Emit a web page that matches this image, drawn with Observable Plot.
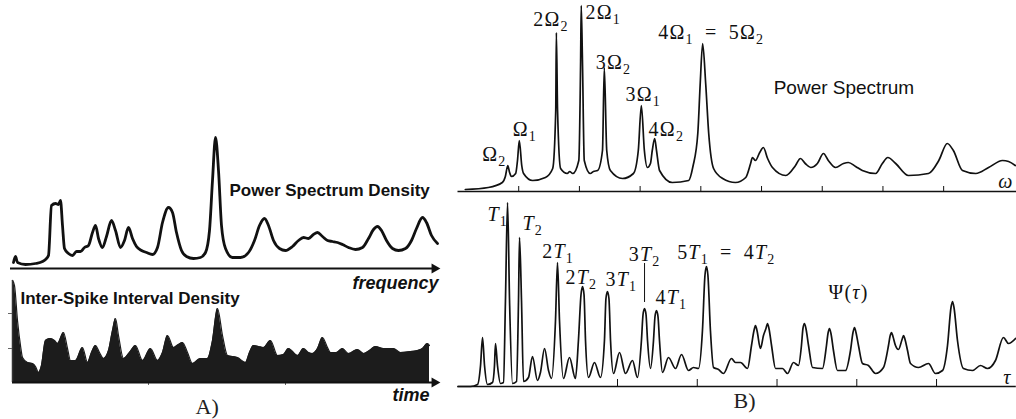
<!DOCTYPE html>
<html><head><meta charset="utf-8">
<script src="https://cdn.jsdelivr.net/npm/d3@7"></script>
<script src="https://cdn.jsdelivr.net/npm/@observablehq/plot@0.6"></script>
<style>
html,body{margin:0;padding:0;background:#fff;}
#chart{position:relative;width:1016px;height:419px;overflow:hidden;background:#fff;}
#chart svg{position:absolute;left:0;top:0;background:transparent !important;overflow:visible;}
</style></head><body><div id="chart"></div>
<script>
// ---------- Panel A, top: power spectrum density ----------
const psdFreq = [3,5,7,15,25,32,35,38,41,45,48,50,52,54,58,62,66,70,74,78,82,85,88,92,96,101,105,110,114,118,122,126,131,136,142,147,152,158,162,166,171,176,183,190,195,199,202,205,208,211,215,222,230,238,244,249,254,258,263,269,275,282,288,293,298,303,307,312,317,322,327,332,338,345,352,358,363,367,371,376,382,388,395,401,406,412,416,421,427];
const psdPower = [6,12,6,4,5,7,9,13,63,65,64,68,43,20,15,13,17,17,21,23,36,43,30,21,32,48,38,21,28,41,30,22,18,16,14,21,46,61,56,36,18,12,10,11,16,38,88,131,98,43,20,11,11,16,28,43,50,43,28,20,18,22,28,31,30,34,36,32,28,27,26,24,21,19,21,30,39,42,38,28,20,18,20,28,40,51,46,33,25];
const psdTexts = ["Power Spectrum Density", "frequency"];
const psdTextX = [219, 342];
const psdTextY = [73, -20];

// ---------- Panel A, bottom: inter-spike interval density ----------
const isiTime = [0,2,5,8,10,15,20,23,26,29,33,38,42,45,51,55,58,63,70,75,79,83,87,91,96,100,103,106,111,117,123,130,138,145,150,155,161,166,170,175,180,188,195,200,205,210,215,225,233,237,241,246,251,258,265,271,276,285,291,296,300,305,310,315,318,324,330,336,345,351,357,363,371,381,388,398,405,410,415,417];
const isiDensity = [102,97,62,37,25,20,19,16,10,17,42,44,42,39,50,34,22,22,35,20,30,37,30,24,32,52,64,47,24,30,37,22,34,22,30,47,35,38,40,30,19,24,24,42,74,47,27,25,20,30,37,36,35,42,27,28,34,27,34,30,29,34,45,35,30,30,34,29,33,29,32,36,34,34,30,31,32,34,39,37];
const isiYTicks = [34, 69];
const isiXTicks = [136, 273];
const isiTexts = ["Inter-Spike Interval Density", "time", "A)"];
const isiTextX = [8, 380, 183];
const isiTextY = [79, -18, -31];

// ---------- Panel B, top: power spectrum ----------
const specOmega = [0.12,0.50,0.73,0.78,0.82,0.85,0.88,0.95,0.98,1.01,1.05,1.08,1.23,1.44,1.56,1.61,1.62,1.64,1.69,1.80,1.84,1.89,1.99,2.02,2.03,2.05,2.08,2.18,2.23,2.30,2.38,2.41,2.45,2.51,2.71,2.89,2.97,3.02,3.07,3.12,3.17,3.20,3.24,3.27,3.32,3.53,3.80,3.87,3.95,3.99,4.03,4.08,4.13,4.21,4.36,4.57,4.74,4.82,4.85,4.90,4.97,5.03,5.10,5.18,5.40,5.56,5.64,5.72,5.81,5.92,6.02,6.10,6.22,6.35,6.43,6.55,6.66,6.88,6.99,7.08,7.21,7.42,7.75,7.92,8.06,8.16,8.31,8.53,8.74,8.97,9.07,9.18];
const specPower = [2,4,9,15,26,19,15,18,31,51,26,18,11,14,23,81,159,81,23,18,20,18,31,131,186,131,31,18,20,21,41,124,41,21,13,18,41,86,41,24,28,41,53,41,21,9,11,25,58,108,148,108,58,23,13,9,14,28,34,31,39,44,33,24,16,26,33,28,24,28,38,31,24,28,29,25,21,18,28,34,28,16,18,31,48,41,21,18,24,31,30,26];
const specTicks = [1,2,3,4,5,6,7,8];
const specLabels = ["Ω_2","Ω_1","2Ω_2","2Ω_1","3Ω_2","3Ω_1","4Ω_2","4Ω_1\u2002=\u20025Ω_2","*ω*"];
const specLabelOmega = [0.40,0.90,1.24,2.10,2.27,2.76,3.14,3.30,8.90];
const specLabelPower = [31,56,166,173,123,91,56,153,4];
const specTitle = ["Power Spectrum"];
const specTitleOmega = [5.20];
const specTitlePower = [98];

// ---------- Panel B, bottom: Psi(tau) ----------
const psiTau = [0,1.25,1.96,2.26,2.46,2.66,2.96,3.46,3.66,3.76,3.96,4.26,4.56,4.76,4.97,5.17,5.47,5.87,6.07,6.17,6.37,6.57,7.07,7.47,7.97,8.27,8.68,9.08,9.38,9.78,9.98,10.18,10.58,11.18,11.78,12.08,12.34,12.49,12.64,12.79,13.09,13.69,14.29,14.69,14.84,14.99,15.14,15.30,15.60,16.20,16.80,17.50,18.00,18.40,18.56,18.71,18.86,19.01,19.31,19.61,19.76,19.91,20.06,20.21,20.51,21.11,21.82,22.42,23.12,23.62,24.12,24.52,24.77,24.92,25.07,25.32,25.63,26.13,26.63,27.43,27.83,28.34,29.04,29.44,29.69,29.84,29.99,30.34,30.64,30.89,31.04,31.19,31.45,31.85,32.55,33.05,33.65,34.15,34.45,34.60,34.75,34.90,35.16,35.56,36.56,36.96,37.11,37.26,37.41,37.66,38.06,38.87,39.37,39.62,39.77,39.92,40.17,40.57,41.17,41.88,42.68,43.18,43.33,43.48,43.63,43.88,44.18,44.54,44.69,44.84,45.09,45.39,46.19,47.19,47.89,48.60,49.10,49.45,49.60,49.75,50.10,50.70,51.61,52.41,53.11,53.91,54.71,55.22,55.92];
const psiValue = [0,0,2,21,49,21,2,4,21,43,21,3,4,86,184,86,3,5,86,149,86,5,9,30,6,14,38,16,8,66,124,66,8,29,8,46,92,100,92,46,9,24,9,46,88,95,88,46,13,34,13,26,9,46,72,78,72,46,18,46,70,76,70,46,14,29,18,32,16,19,18,56,111,120,111,56,19,17,13,28,24,24,18,41,56,61,56,38,51,58,63,58,41,18,18,13,24,21,41,58,63,58,41,19,18,41,53,58,53,36,16,16,36,54,59,54,41,23,21,13,19,41,50,54,50,41,37,47,51,47,36,23,19,23,13,16,41,79,85,79,46,18,16,21,18,26,49,43,48];
const psiTicks = [16,24,32,40,48];
const psiLabels = ["*T*_1","*T*_2","2*T*_1","2*T*_2","3*T*_1","3*T*_2","4*T*_1","5*T*_1\u2002=\u20024*T*_2","Ψ(*τ*)","*τ*"];
const psiLabelTau = [2.96,6.47,8.46,10.78,14.79,17.13,19.81,21.98,37.16,54.7];
const psiLabelValue = [166,157,129,103,101,126,83,128,88,3];
const psiPanel = ["B)"];
const psiPanelTau = [27.63];
const psiPanelValue = [-21];
const psiMarkerTau = [18.71];
const psiMarkerFrom = [84];
const psiMarkerTo = [123];

// ---------- build ----------
const W = 1016, H = 419;
const ink = "#111";
const sans = "'Liberation Sans', Arial, sans-serif";
const serif = "'Liberation Serif', 'Times New Roman', serif";
const zip = (xs, ys) => xs.map((x, i) => ({x, y: ys[i]}));
const base = {width: W, height: H, margin: 0, style: {background: "transparent", overflow: "visible"}};

const psd = zip(psdFreq, psdPower);
const psdT = psdTexts.map((t, i) => ({t, x: psdTextX[i], y: psdTextY[i]}));
const aTop = Plot.plot({...base,
  x: {domain: [0, 430], range: [10, 440], axis: null},
  y: {domain: [0, 131], range: [268, 137], axis: null},
  marks: [
    Plot.ruleY([0], {x1: 0, x2: 424, stroke: ink, strokeWidth: 2}),
    Plot.dot([424], {x: d => d, y: 0, symbol: "triangle", r: 3.8, rotate: 90, fill: ink, stroke: "none"}),
    Plot.line(psd, {x: "x", y: "y", stroke: ink, strokeWidth: 2.8, curve: "monotone-x", strokeLinejoin: "round"}),
    Plot.text(psdT.slice(0, 1), {x: "x", y: "y", text: "t", textAnchor: "start", lineAnchor: "bottom", fontFamily: sans, fontWeight: "bold", fontSize: 17, fill: ink}),
    Plot.text(psdT.slice(1), {x: "x", y: "y", text: "t", textAnchor: "start", lineAnchor: "bottom", fontFamily: sans, fontWeight: "bold", fontStyle: "italic", fontSize: 18, fill: ink})
  ]
});

const isi = zip(isiTime, isiDensity);
const isiT = isiTexts.map((t, i) => ({t, x: isiTextX[i], y: isiTextY[i]}));
const aBot = Plot.plot({...base,
  x: {domain: [0, 428], range: [12, 440], axis: null},
  y: {domain: [0, 102], range: [382, 280], axis: null},
  marks: [
    Plot.areaY(isi, {x: "x", y: "y", fill: "#1c1c1c", curve: "monotone-x"}),
    Plot.line(isi, {x: "x", y: "y", stroke: "#1c1c1c", strokeWidth: 1.2, curve: "monotone-x"}),
    Plot.ruleX([0], {y1: 0, y2: 102, stroke: "#333", strokeWidth: 1.5}),
    Plot.ruleY(isiYTicks, {x1: -4, x2: 0, stroke: "#666", strokeWidth: 1}),
    Plot.ruleX(isiXTicks, {y1: -3, y2: 0, stroke: "#666", strokeWidth: 1}),
    Plot.ruleY([0], {x1: 0, x2: 422, stroke: ink, strokeWidth: 2}),
    Plot.dot([422], {x: d => d, y: 0, symbol: "triangle", r: 3.8, rotate: 90, fill: ink, stroke: "none"}),
    Plot.text(isiT.slice(0, 1), {x: "x", y: "y", text: "t", textAnchor: "start", lineAnchor: "bottom", fontFamily: sans, fontWeight: "bold", fontSize: 17, fill: ink}),
    Plot.text(isiT.slice(1, 2), {x: "x", y: "y", text: "t", textAnchor: "start", lineAnchor: "bottom", fontFamily: sans, fontWeight: "bold", fontStyle: "italic", fontSize: 18, fill: ink}),
    Plot.text(isiT.slice(2), {x: "x", y: "y", text: "t", textAnchor: "start", lineAnchor: "bottom", fontFamily: serif, fontSize: 22, fill: "#222"})
  ]
});

const spec = zip(specOmega, specPower);
const specL = specLabels.map((t, i) => ({t, x: specLabelOmega[i], y: specLabelPower[i]}));
const specTt = specTitle.map((t, i) => ({t, x: specTitleOmega[i], y: specTitlePower[i]}));
const bTop = Plot.plot({...base,
  x: {domain: [0, 9.2], range: [457.5, 1016], axis: null},
  y: {domain: [0, 186], range: [191, 5], axis: null},
  marks: [
    Plot.ruleY([0], {x1: 0, x2: 9.2, stroke: ink, strokeWidth: 1.5}),
    Plot.ruleX(specTicks, {y1: 0, y2: 5, stroke: ink, strokeWidth: 1}),
    Plot.line(spec, {x: "x", y: "y", stroke: ink, strokeWidth: 1.7, curve: "monotone-x", strokeLinejoin: "round"}),
    Plot.text(specL, {x: "x", y: "y", text: "t", textAnchor: "start", lineAnchor: "bottom", fontFamily: serif, fontSize: 20, fill: ink}),
    Plot.text(specTt, {x: "x", y: "y", text: "t", textAnchor: "start", lineAnchor: "bottom", fontFamily: sans, fontSize: 19, fill: ink})
  ]
});

const psi = zip(psiTau, psiValue);
const psiL = psiLabels.map((t, i) => ({t, x: psiLabelTau[i], y: psiLabelValue[i]}));
const psiP = psiPanel.map((t, i) => ({t, x: psiPanelTau[i], y: psiPanelValue[i]}));
const psiM = psiMarkerTau.map((x, i) => ({x, y1: psiMarkerFrom[i], y2: psiMarkerTo[i]}));
const bBot = Plot.plot({...base,
  x: {domain: [0, 56], range: [457.5, 1015.8], axis: null},
  y: {domain: [0, 184], range: [386, 202], axis: null},
  marks: [
    Plot.ruleY([0], {x1: 0, x2: 56, stroke: ink, strokeWidth: 1.5}),
    Plot.ruleX(psiTicks, {y1: 0, y2: 7, stroke: ink, strokeWidth: 1}),
    Plot.ruleX(psiM, {x: "x", y1: "y1", y2: "y2", stroke: ink, strokeWidth: 1}),
    Plot.line(psi, {x: "x", y: "y", stroke: ink, strokeWidth: 1.7, curve: "monotone-x", strokeLinejoin: "round"}),
    Plot.text(psiL, {x: "x", y: "y", text: "t", textAnchor: "start", lineAnchor: "bottom", fontFamily: serif, fontSize: 20, fill: ink}),
    Plot.text(psiP, {x: "x", y: "y", text: "t", textAnchor: "start", lineAnchor: "bottom", fontFamily: serif, fontSize: 22, fill: "#222"})
  ]
});

const chart = document.getElementById("chart");
[aTop, aBot, bTop, bBot].forEach(s => chart.appendChild(s));

// rich text: *...* italic, _d subscript; slightly wider math spacing
const NS = "http://www.w3.org/2000/svg";
chart.querySelectorAll("text").forEach(t => {
  const target = t.querySelector("tspan") || t;
  const s = target.textContent;
  if (!/[_*]|Ω|Ψ/.test(s)) return;
  t.setAttribute("letter-spacing", "1.2");
  const fs = parseFloat(getComputedStyle(t).fontSize) || 20;
  target.textContent = "";
  let shifted = false, italic = false, buf = "";
  const push = (txt, it, sub) => {
    if (!txt) return;
    const ts = document.createElementNS(NS, "tspan");
    ts.textContent = txt;
    if (it) ts.setAttribute("font-style", "italic");
    if (sub) {
      ts.setAttribute("font-size", (fs * 0.7).toFixed(1));
      if (!shifted) { ts.setAttribute("dy", (fs * 0.28).toFixed(1)); shifted = true; }
    } else if (shifted) {
      ts.setAttribute("dy", (-fs * 0.28).toFixed(1)); shifted = false;
    }
    target.appendChild(ts);
  };
  for (let i = 0; i < s.length; i++) {
    const c = s[i];
    if (c === "*") { push(buf, italic, false); buf = ""; italic = !italic; }
    else if (c === "_") { push(buf, italic, false); buf = ""; push(s[i + 1], false, true); i++; }
    else buf += c;
  }
  push(buf, italic, false);
});
</script></body></html>
